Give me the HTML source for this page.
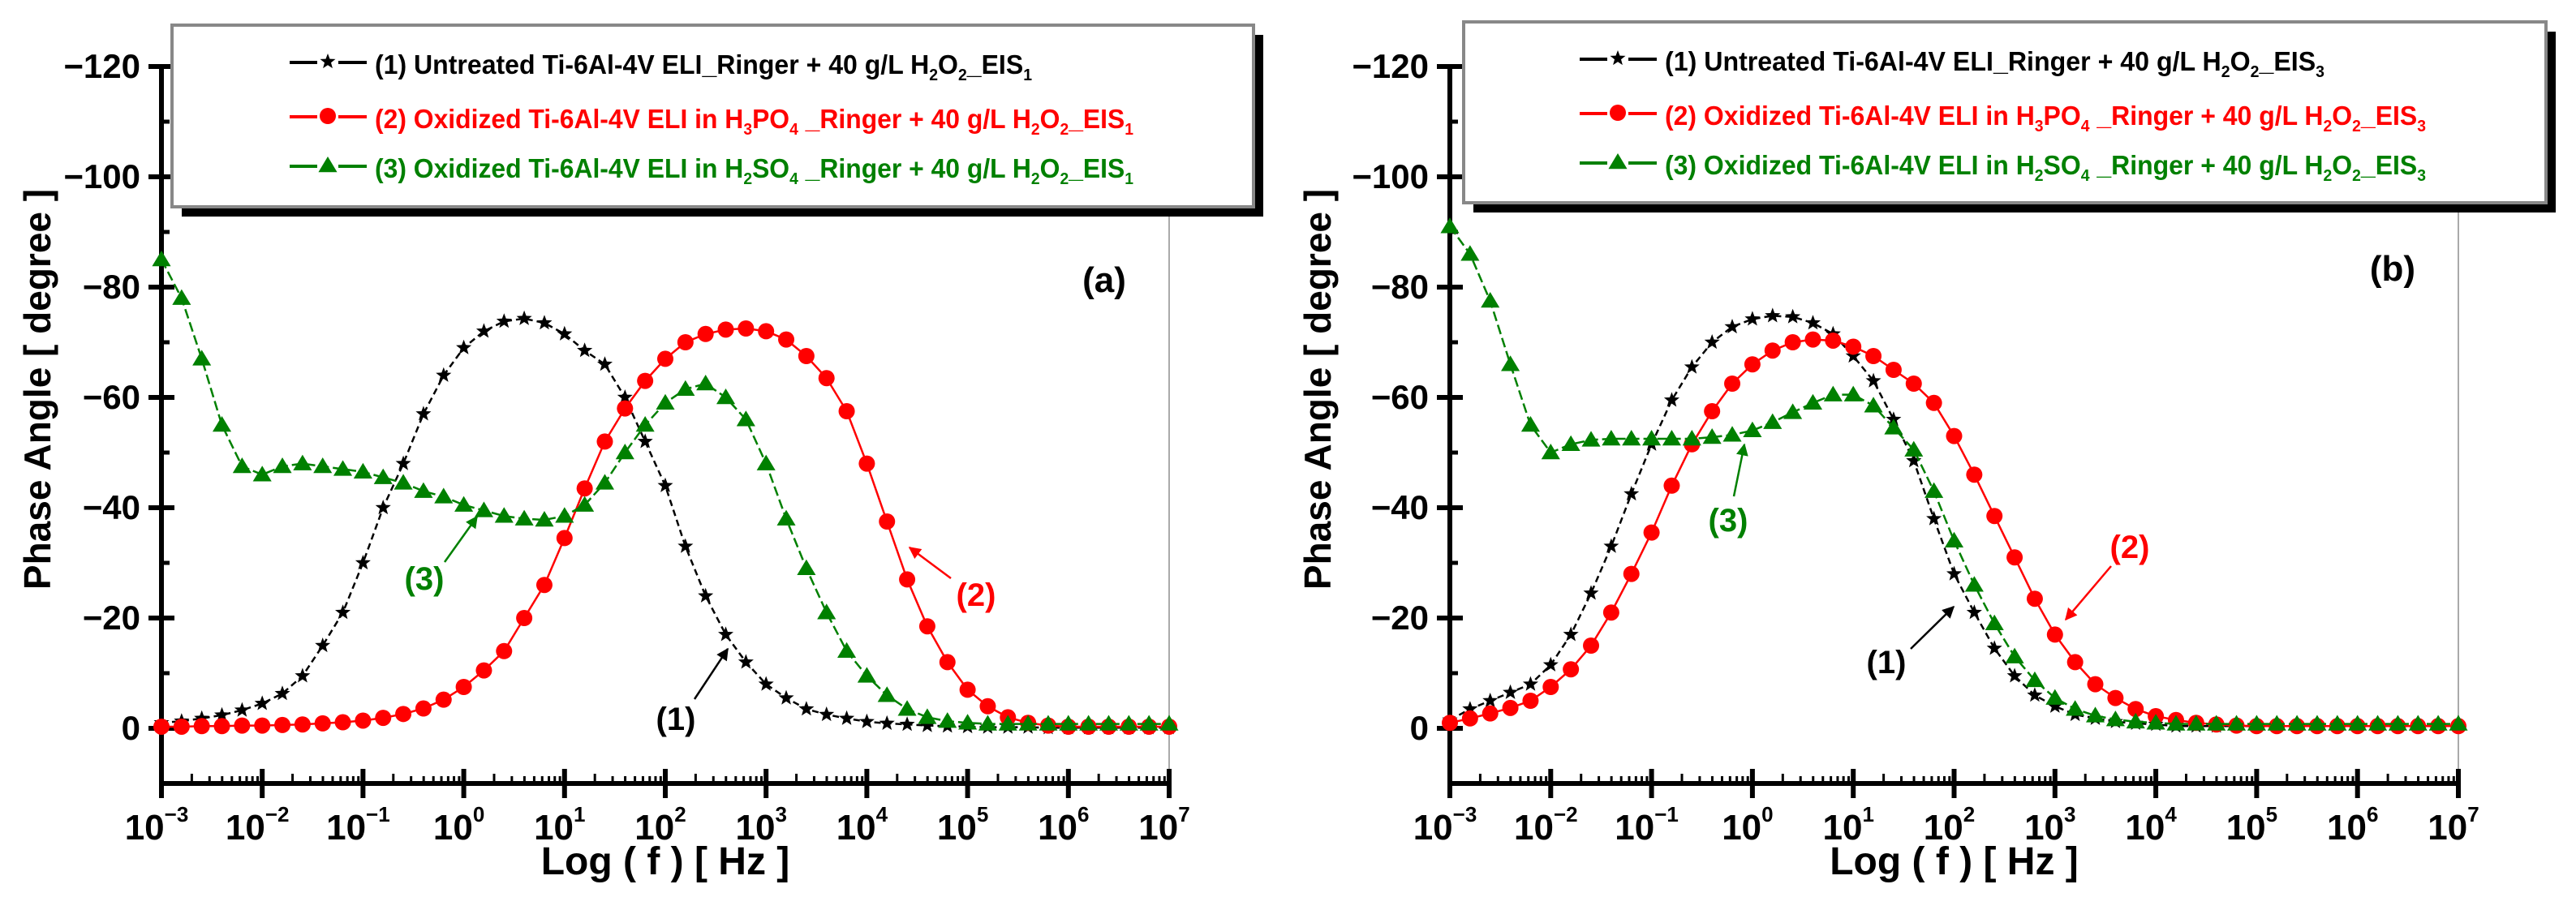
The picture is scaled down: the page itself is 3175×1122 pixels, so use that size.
<!DOCTYPE html>
<html><head><meta charset="utf-8">
<style>
html,body{margin:0;padding:0;background:#fff;}
svg{display:block;}
text{font-family:"Liberation Sans Narrow","Liberation Sans",sans-serif;font-weight:bold;}
</style></head>
<body>
<svg id="fig" width="3175" height="1122" viewBox="0 0 3175 1122" xmlns="http://www.w3.org/2000/svg"></svg>
<script>
// ---- data ----
const logFreq = [-3.0,-2.8,-2.6,-2.4,-2.2,-2.0,-1.8,-1.6,-1.4,-1.2,-1.0,-0.8,-0.6,-0.4,-0.2,0.0,0.2,0.4,0.6,0.8,1.0,1.2,1.4,1.6,1.8,2.0,2.2,2.4,2.6,2.8,3.0,3.2,3.4,3.6,3.8,4.0,4.2,4.4,4.6,4.8,5.0,5.2,5.4,5.6,5.8,6.0,6.2,6.4,6.6,6.8,7.0];
const xTickExps = [-3,-2,-1,0,1,2,3,4,5,6,7];
const yTickVals = [-120,-100,-80,-60,-40,-20,0];
const yTickLabels = ["\u2212120","\u2212100","\u221280","\u221260","\u221240","\u221220","0"];
// panel (a)
const phaseA1 = [-1.0,-1.3,-1.8,-2.4,-3.3,-4.5,-6.3,-9.5,-15,-21,-30,-40,-48,-57,-64,-69,-72,-73.8,-74.3,-73.5,-71.5,-68.5,-66,-60,-52,-44,-33,-24,-17,-12,-8,-5.5,-3.5,-2.5,-1.8,-1.2,-0.9,-0.7,-0.5,-0.4,-0.3,-0.2,-0.2,-0.2,-0.1,-0.1,-0.1,-0.1,-0.1,-0.1,-0.1];
const phaseA2 = [-0.3,-0.3,-0.4,-0.4,-0.5,-0.5,-0.6,-0.7,-0.9,-1.1,-1.4,-1.9,-2.6,-3.6,-5.2,-7.5,-10.5,-14,-20,-26,-34.5,-43.5,-52,-58,-63,-67,-70,-71.5,-72.3,-72.5,-72,-70.5,-67.5,-63.5,-57.5,-48,-37.5,-27,-18.5,-12,-7,-4,-2,-1,-0.5,-0.3,-0.3,-0.3,-0.3,-0.3,-0.3];
const phaseA3 = [-85,-78,-67,-55,-47.5,-46,-47.5,-48,-47.5,-47,-46.5,-45.5,-44.5,-43,-42,-40.5,-39.5,-38.5,-38,-37.8,-38.5,-40.5,-44.5,-50,-55,-59,-61.5,-62.5,-60,-56,-48,-38,-29,-21,-14,-9.5,-6,-3.5,-2,-1.3,-1,-0.8,-0.8,-0.8,-0.8,-0.8,-0.8,-0.8,-0.8,-0.8,-0.8];
// panel (b)
const phaseB1 = [-1.5,-3.5,-5,-6.5,-8,-11.5,-17,-24.5,-33,-42.5,-51.5,-59.5,-65.5,-70,-72.8,-74.2,-74.8,-74.6,-73.5,-71.5,-67.5,-63,-56,-48.5,-38,-28,-21,-14.5,-9.5,-6,-4,-2.5,-1.8,-1.2,-0.9,-0.7,-0.4,-0.4,-0.4,-0.4,-0.4,-0.4,-0.4,-0.4,-0.4,-0.4,-0.4,-0.4,-0.4,-0.4,-0.4];
const phaseB2 = [-1,-1.8,-2.7,-3.7,-5,-7.5,-10.7,-15,-21,-28,-35.5,-44,-51.5,-57.5,-62.5,-66,-68.5,-70,-70.5,-70.3,-69.2,-67.5,-65,-62.5,-59,-53,-46,-38.5,-31,-23.5,-17,-12,-8,-5.5,-3.5,-2.2,-1.5,-1,-0.7,-0.5,-0.4,-0.4,-0.4,-0.4,-0.4,-0.4,-0.4,-0.4,-0.4,-0.4,-0.4];
const phaseB3 = [-91,-86,-77.5,-66,-55,-50,-51.5,-52.3,-52.5,-52.5,-52.5,-52.5,-52.5,-52.8,-53.2,-54,-55.5,-57.3,-59,-60.5,-60.5,-58.5,-54.5,-50.5,-43,-34,-26,-19,-13,-8.7,-5.5,-3.5,-2.3,-1.6,-1.2,-1,-0.8,-0.8,-0.8,-0.8,-0.8,-0.8,-0.8,-0.8,-0.8,-0.8,-0.8,-0.8,-0.8,-0.8,-0.8];

const NS = "http://www.w3.org/2000/svg";
const svg = document.getElementById("fig");
function mk(tag, attrs, parent){
  const e = document.createElementNS(NS, tag);
  for (const k in attrs) e.setAttribute(k, attrs[k]);
  (parent||svg).appendChild(e);
  return e;
}
const Y0 = 898, YPER = 6.8, XTOP = 82, XAXIS = 966;
function yS(v){ return Y0 + v*YPER; }
function starPath(cx, cy, R){
  let d = "";
  for (let i=0;i<10;i++){
    const r = i%2===0 ? R : R*0.42;
    const a = -Math.PI/2 + i*Math.PI/5;
    d += (i===0?"M":"L") + (cx + r*Math.cos(a)).toFixed(1) + " " + (cy + r*Math.sin(a)).toFixed(1);
  }
  return d + "Z";
}
function triPath(cx, cy, s){
  return "M"+cx+" "+(cy-s)+"L"+(cx+s*1.05)+" "+(cy+s*0.75)+"L"+(cx-s*1.05)+" "+(cy+s*0.75)+"Z";
}
function marker(g, kind, x, y, color){
  let m;
  if (kind==="star") m = mk("path", {d: starPath(x,y,10), fill: color}, g);
  else if (kind==="circle") m = mk("circle", {cx:x, cy:y, r:10, fill: color}, g);
  else m = mk("path", {d: triPath(x,y,11), fill: color}, g);
  
  
}

function drawPanel(p){
  const xS = v => p.x0 + (v+3)*p.dec;
  const g = mk("g", {});
  
  

  // right frame gray line
  const fr = mk("line", {x1:xS(7), y1:p.legB+12, x2:xS(7), y2:XAXIS, stroke:"#aaa", "stroke-width":2}, g);
  
  

  // y axis
  const ya = mk("line", {x1:p.x0, y1:XTOP, x2:p.x0, y2:XAXIS+3, stroke:"#000", "stroke-width":6}, g);
  
  
  yTickVals.forEach((v,i)=>{
    const t = mk("line", {x1:p.x0-16, y1:yS(v), x2:p.x0+16, y2:yS(v), stroke:"#000", "stroke-width":6}, g);
    
    
    const lb = mk("text", {x:p.x0-26, y:yS(v)+14, "text-anchor":"end", "font-size":42, fill:"#000"}, g);
    lb.textContent = yTickLabels[i];
    
    
    if (i < yTickVals.length-1){
      const mt = mk("line", {x1:p.x0, y1:yS(v+10), x2:p.x0+10, y2:yS(v+10), stroke:"#000", "stroke-width":5}, g);
      
      
    }
  });
  // x axis
  const xa = mk("line", {x1:p.x0, y1:XAXIS, x2:xS(7)+3, y2:XAXIS, stroke:"#000", "stroke-width":6}, g);
  
  
  xTickExps.forEach(e=>{
    const x = xS(e);
    const t = mk("line", {x1:x, y1:XAXIS-18, x2:x, y2:XAXIS+18, stroke:"#000", "stroke-width":6}, g);
    
    
    const lb = mk("text", {x:x-6, y:1035, "text-anchor":"middle", "font-size":44, fill:"#000"}, g);
    
    
    const t1 = mk("tspan", {}, lb); t1.textContent = "10";
    const t2 = mk("tspan", {"font-size":26, dy:-22}, lb); t2.textContent = (e<0?"\u2212":"") + Math.abs(e);
    if (e < 7){
      for (let k=2;k<=9;k++){
        const mx = xS(e + Math.log10(k));
        const m = mk("line", {x1:mx, y1:XAXIS-(k===2?12:9), x2:mx, y2:XAXIS, stroke:"#000", "stroke-width":3}, g);
        
        
      }
    }
  });
  // axis titles
  const xt = mk("text", {x:(p.x0+xS(7))/2, y:1078, "text-anchor":"middle", "font-size":48, fill:"#000", "font-family":"Liberation Sans, sans-serif"}, g);
  xt.textContent = "Log ( f ) [ Hz ]";
  
  
  const ytl = mk("text", {x:0, y:0, "text-anchor":"middle", "font-size":46, fill:"#000", "font-family":"Liberation Sans, sans-serif", transform:"translate("+(p.ylabX)+",480) rotate(-90)"}, g);
  ytl.textContent = "Phase Angle [ degree ]";
  
  

  // series
  p.series.forEach(s=>{
    const sg = mk("g", {}, g);
    
    
    const pts = logFreq.map((lf,i)=> xS(lf).toFixed(1)+","+yS(s.vals[i]).toFixed(1)).join(" ");
    const ln = mk("polyline", {points:pts, fill:"none", stroke:s.color, "stroke-width":2.5, "stroke-dasharray":s.dash}, sg);
    
    
    logFreq.forEach((lf,i)=> marker(sg, s.kind, xS(lf), yS(s.vals[i]), s.color));
  });

  // annotations
  p.notes.forEach(n=>{
    const ar = mk("line", {x1:n.ax1, y1:n.ay1, x2:n.ax2, y2:n.ay2, stroke:n.color, "stroke-width":2.5, "marker-end":"url(#arr-"+n.mk+")"}, g);
    
    
    const tx = mk("text", {x:n.tx, y:n.ty, "text-anchor":"middle", "font-size":40, fill:n.color}, g);
    tx.textContent = n.label;
    
    
  });
  const pl = mk("text", {x:p.plX, y:p.plY, "text-anchor":"middle", "font-size":44, fill:"#000"}, g);
  pl.textContent = p.panelLabel;
  
  

  // legend
  const lg = mk("g", {}, g);
  
  
  const sh = mk("rect", {x:p.legL+12, y:p.legT+12, width:p.legR-p.legL, height:p.legB-p.legT, fill:"#000"}, lg);
  
  
  const bx = mk("rect", {x:p.legL, y:p.legT, width:p.legR-p.legL, height:p.legB-p.legT, fill:"#fff", stroke:"#888", "stroke-width":4}, lg);
  
  
  const rows = [p.legT+50, p.legT+117, p.legT+178];
  p.series.forEach((s,i)=>{
    const ry = rows[i];
    const ll = mk("line", {x1:p.symX, y1:ry-4, x2:p.symX+95, y2:ry-4, stroke:s.color, "stroke-width":4}, lg);
    
    
    const mg = mk("g", {fill:"#fff"}, lg);
    mk("rect", {x:p.symX+34, y:ry-20, width:26, height:30, fill:"#fff"}, mg);
    marker(mg, s.kind, p.symX+47, ry-5, s.color);
    const t = mk("text", {x:p.symX+105, y:ry+10, "font-size":33, fill:s.color, textLength:s.tl, lengthAdjust:"spacingAndGlyphs"}, lg);
    
    
    s.parts.forEach(pt=>{
      const ts = mk("tspan", pt[1] ? {"font-size":20, dy:8} : {dy: 0}, t);
      ts.textContent = pt[0];
      if (pt[1]) { const r = mk("tspan", {"font-size":33, dy:-8}, t); r.textContent = "\u200b"; }
    });
  });
}

// arrow heads
const defs = mk("defs", {});
[["k","#000"],["r","#ff0000"],["g","#008000"]].forEach(c=>{
  const m = mk("marker", {id:"arr-"+c[0], viewBox:"0 0 10 10", refX:9, refY:5, markerWidth:6, markerHeight:6, orient:"auto"}, defs);
  mk("path", {d:"M0 0L10 5L0 10Z", fill:c[1]}, m);
});

function legParts(lead, acid, acidSub, eis){
  const arr = [[lead, false]];
  if (acid){ arr.push([" in H",false],[acidSub[0],true],[acidSub[1],false],[acidSub[2],true],[" _Ringer + 40 g/L H",false]); }
  else arr.push(["_Ringer + 40 g/L H",false]);
  arr.push(["2",true],["O",false],["2",true],["_EIS",false],[eis,true]);
  return arr;
}

drawPanel({
  name:"panel-a", x0:199, dec:124.2, ylabX:62,
  legL:212, legT:31, legR:1545, legB:255, symX:357,
  plX:1361, plY:360, panelLabel:"(a)",
  series:[
    {name:"series-untreated", vals:phaseA1, color:"#000", kind:"star", dash:"8 5", tl:810, parts:legParts("(1) Untreated Ti-6Al-4V ELI", false, null, "1")},
    {name:"series-oxidized-h3po4", vals:phaseA2, color:"#ff0000", kind:"circle", dash:"none", tl:935, parts:legParts("(2) Oxidized Ti-6Al-4V ELI", true, ["3","PO","4"], "1")},
    {name:"series-oxidized-h2so4", vals:phaseA3, color:"#008000", kind:"tri", dash:"12 5", tl:935, parts:legParts("(3) Oxidized Ti-6Al-4V ELI", true, ["2","SO","4"], "1")}
  ],
  notes:[
    {label:"(3)", color:"#008000", mk:"g", tx:523, ty:727, ax1:548, ay1:693, ax2:588, ay2:637},
    {label:"(1)", color:"#000", mk:"k", tx:833, ty:900, ax1:856, ay1:862, ax2:897, ay2:800},
    {label:"(2)", color:"#ff0000", mk:"r", tx:1203, ty:747, ax1:1172, ay1:713, ax2:1121, ay2:675}
  ]
});
drawPanel({
  name:"panel-b", x0:1787, dec:124.3, ylabX:1640,
  legL:1804, legT:27, legR:3138, legB:250, symX:1947,
  plX:2949, plY:346, panelLabel:"(b)",
  series:[
    {name:"series-untreated", vals:phaseB1, color:"#000", kind:"star", dash:"8 5", tl:813, parts:legParts("(1) Untreated Ti-6Al-4V ELI", false, null, "3")},
    {name:"series-oxidized-h3po4", vals:phaseB2, color:"#ff0000", kind:"circle", dash:"none", tl:938, parts:legParts("(2) Oxidized Ti-6Al-4V ELI", true, ["3","PO","4"], "3")},
    {name:"series-oxidized-h2so4", vals:phaseB3, color:"#008000", kind:"tri", dash:"12 5", tl:938, parts:legParts("(3) Oxidized Ti-6Al-4V ELI", true, ["2","SO","4"], "3")}
  ],
  notes:[
    {label:"(3)", color:"#008000", mk:"g", tx:2130, ty:655, ax1:2137, ay1:612, ax2:2150, ay2:548},
    {label:"(1)", color:"#000", mk:"k", tx:2325, ty:830, ax1:2355, ay1:800, ax2:2408, ay2:748},
    {label:"(2)", color:"#ff0000", mk:"r", tx:2625, ty:688, ax1:2602, ay1:698, ax2:2546, ay2:764}
  ]
});
</script>
</body></html>
